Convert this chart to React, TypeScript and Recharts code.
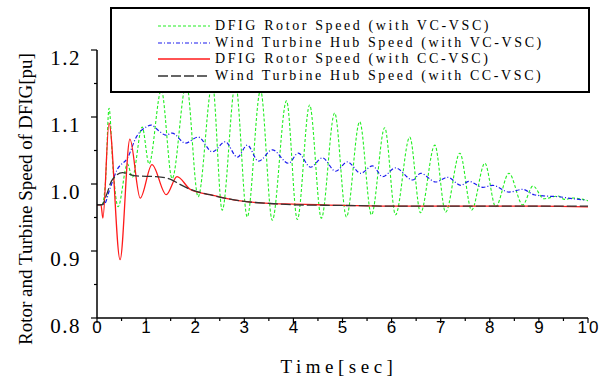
import { LineChart, Line, XAxis, YAxis, Legend } from "recharts";

// DFIG rotor speed, VC-VSC (green dashed)
const vcRotorT = [0, 0.1, 0.17, 0.245, 0.33, 0.43, 0.62, 0.72, 0.92, 1.06, 1.31, 1.53, 1.82, 2.06, 2.35, 2.55, 2.82, 3.06, 3.33, 3.57, 3.86, 4.08, 4.33, 4.57, 4.84, 5.08, 5.35, 5.59, 5.86, 6.08, 6.37, 6.59, 6.88, 7.1, 7.39, 7.63, 7.9, 8.12, 8.39, 8.67, 8.88, 9.1, 9.39, 9.52, 9.7, 10];
const vcRotorV = [0.969, 0.969, 1.0, 1.113, 1.02, 0.966, 1.03, 1.01, 1.085, 1.03, 1.14, 1.008, 1.15, 0.981, 1.15, 0.961, 1.15, 0.951, 1.14, 0.946, 1.124, 0.947, 1.118, 0.949, 1.106, 0.951, 1.093, 0.954, 1.084, 0.954, 1.07, 0.957, 1.058, 0.958, 1.046, 0.961, 1.031, 0.966, 1.016, 0.969, 0.997, 0.978, 0.982, 0.977, 0.979, 0.975];

// wind turbine hub speed, VC-VSC (blue dash-dot)
const vcHubT = [0, 0.15, 0.25, 0.4, 0.63, 0.8, 1.0, 1.1, 1.25, 1.4, 1.53, 1.8, 2.06, 2.35, 2.61, 2.86, 3.06, 3.29, 3.57, 3.9, 4.1, 4.35, 4.59, 4.86, 5.1, 5.37, 5.61, 5.82, 6.08, 6.43, 6.59, 6.9, 7.14, 7.41, 7.57, 7.86, 8.06, 8.39, 8.67, 8.9, 9.14, 9.41, 9.69, 9.96];
const vcHubV = [0.969, 0.97, 0.99, 1.02, 1.04, 1.07, 1.085, 1.088, 1.08, 1.073, 1.076, 1.061, 1.07, 1.048, 1.063, 1.04, 1.058, 1.034, 1.051, 1.031, 1.046, 1.025, 1.039, 1.019, 1.033, 1.016, 1.027, 1.011, 1.024, 1.006, 1.016, 1.003, 1.01, 0.998, 1.004, 0.995, 0.998, 0.988, 0.992, 0.984, 0.982, 0.981, 0.978, 0.976];

// DFIG rotor speed, CC-VSC (red solid)
const ccRotorT = [0, 0.08, 0.12, 0.245, 0.47, 0.67, 0.88, 1.12, 1.41, 1.63, 1.9, 2.3, 2.6, 3.0, 3.5, 4.0, 4.5, 5.0, 6.0, 7.0, 8.0, 9.0, 10];
const ccRotorV = [0.969, 0.969, 0.949, 1.091, 0.887, 1.067, 0.979, 1.029, 0.984, 1.011, 0.992, 0.984, 0.979, 0.974, 0.971, 0.97, 0.969, 0.968, 0.967, 0.967, 0.967, 0.967, 0.966];

// wind turbine hub speed, CC-VSC (black dashed)
const ccHubT = [0, 0.1, 0.2, 0.3, 0.52, 0.8, 1.2, 1.5, 1.7, 1.9, 2.3, 2.6, 3.0, 3.5, 4.0, 5.0, 6.0, 7.0, 8.0, 9.0, 10];
const ccHubV = [0.969, 0.969, 0.985, 1.005, 1.017, 1.012, 1.011, 1.007, 0.999, 0.992, 0.984, 0.979, 0.974, 0.971, 0.969, 0.968, 0.967, 0.967, 0.967, 0.967, 0.967];

const xTicks = [0, 0.5, 1, 1.5, 2, 2.5, 3, 3.5, 4, 4.5, 5, 5.5, 6, 6.5, 7, 7.5, 8, 8.5, 9, 9.5, 10];
const yTicks = [0.8, 0.85, 0.9, 0.95, 1.0, 1.05, 1.1, 1.15, 1.2];

const series = [
  { name: "DFIG Rotor Speed (with VC-VSC)", color: "#22ee22", dash: "3 2", width: 1.1 },
  { name: "Wind Turbine Hub Speed (with VC-VSC)", color: "#1a1aee", dash: "4 2 1 2", width: 1.2 },
  { name: "DFIG Rotor Speed (with CC-VSC)", color: "#ff1a1a", dash: undefined, width: 1.3 },
  { name: "Wind Turbine Hub Speed (with CC-VSC)", color: "#333333", dash: "10 3", width: 1.3 },
];

const zip = (ts: number[], vs: number[]) => ts.map((t, i) => ({ t, v: vs[i] }));
const lines = [zip(vcRotorT, vcRotorV), zip(vcHubT, vcHubV), zip(ccRotorT, ccRotorV), zip(ccHubT, ccHubV)];

const SERIF = "Liberation Serif, DejaVu Serif, serif";
const SANS = "Liberation Sans, Arial, sans-serif";

function XTick({ x, y, payload }: any) {
  const major = Number.isInteger(payload.value);
  return (
    <g>
      <line x1={x} x2={x} y1={y} y2={y + (major ? 5 : 3)} stroke="#000" strokeWidth={1.2} />
      {major && (
        <text x={x + 1} y={y + 15} textAnchor="middle" fontFamily={SANS} fontSize={17} letterSpacing={2} fill="#000">
          {payload.value}
        </text>
      )}
    </g>
  );
}

function YTick({ x, y, payload }: any) {
  const major = Math.round(payload.value * 100) % 10 === 0;
  return (
    <g>
      <line x1={x} x2={x - (major ? 6 : 3)} y1={y} y2={y} stroke="#000" strokeWidth={1.2} />
      {major && (
        <text x={x - 16} y={y + 15} textAnchor="end" fontFamily={SERIF} fontSize={21} letterSpacing={1.5} fill="#000">
          {payload.value.toFixed(1)}
        </text>
      )}
    </g>
  );
}

function LegendBox() {
  return (
    <div style={{ position: "relative", width: 480, height: 86, boxSizing: "border-box", border: "2px solid #000", background: "#fff" }}>
      {series.map((s, i) => (
        <div key={i} style={{ position: "absolute", left: 0, top: 9 + i * 16.7, height: 16, width: "100%" }}>
          <svg width={54} height={16} style={{ position: "absolute", left: 46, top: 0 }}>
            <line x1={0} x2={52} y1={8} y2={8} stroke={s.color} strokeWidth={s.width} strokeDasharray={s.dash} />
          </svg>
          <span style={{ position: "absolute", left: 103, top: -1, fontFamily: SERIF, fontSize: 14, letterSpacing: 2.6, lineHeight: "18px", whiteSpace: "nowrap", color: "#000" }}>
            {s.name}
          </span>
        </div>
      ))}
    </div>
  );
}

export default function App() {
  return (
    <div style={{ position: "absolute", left: 0, top: 0, background: "#fff" }}>
      <LineChart width={600} height={376} margin={{ top: 50, right: 12, left: 0, bottom: 0 }}>
        <XAxis
          dataKey="t" type="number" domain={[0, 10]} ticks={xTicks} interval={0}
          height={58} tickSize={0} tickMargin={0} tickLine={false} tick={<XTick />}
          axisLine={{ stroke: "#000", strokeWidth: 1.5 }}
          label={() => (
            <text x={339} y={373} textAnchor="middle" fontFamily={SERIF} fontSize={19} letterSpacing={4.5} fill="#000">
              Time[sec]
            </text>
          )}
        />
        <YAxis
          type="number" domain={[0.8, 1.2]} ticks={yTicks} interval={0}
          width={97} tickSize={0} tickMargin={0} tickLine={false} tick={<YTick />}
          axisLine={{ stroke: "#000", strokeWidth: 1.5 }}
          label={() => (
            <text x={25} y={199} transform="rotate(-90 25 199)" textAnchor="middle" dominantBaseline="central" fontFamily={SERIF} fontSize={19} fill="#000">
              Rotor and Turbine Speed of DFIG[pu]
            </text>
          )}
        />
        {series.map((s, i) => (
          <Line
            key={s.name} data={lines[i]} dataKey="v" name={s.name} type="monotone"
            stroke={s.color} strokeWidth={s.width} strokeDasharray={s.dash}
            dot={false} activeDot={false} isAnimationActive={false}
          />
        ))}
        <Legend
          layout="horizontal" verticalAlign="middle" align="center"
          content={() => <LegendBox />}
          wrapperStyle={{ left: 110, top: 7, width: 480, height: 86 }}
        />
      </LineChart>
    </div>
  );
}
